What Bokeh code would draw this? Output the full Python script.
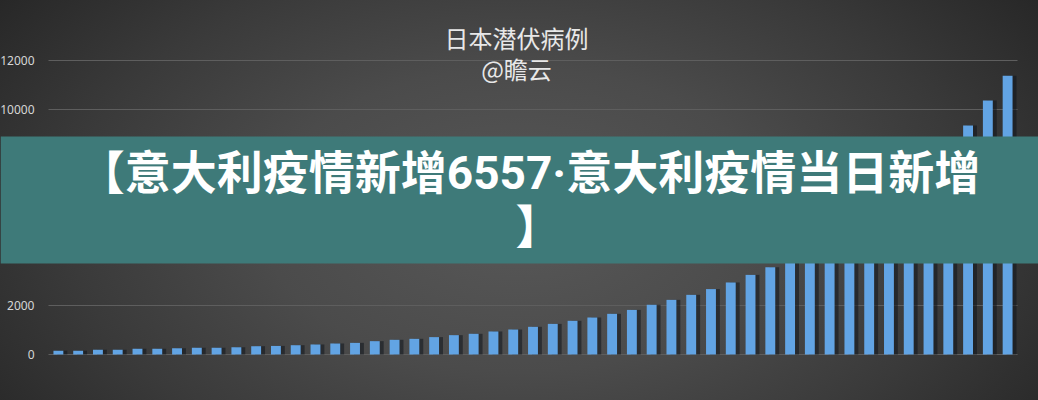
from bokeh.plotting import figure
from bokeh.models import ColumnDataSource, Range1d, FixedTicker, BoxAnnotation, Label
from bokeh.transform import dodge
from bokeh.embed import file_html
from bokeh.resources import INLINE

# ---- data -------------------------------------------------------------
title_lines = ["日本潜伏病例", "@瞻云"]
banner_lines = ["【意大利疫情新增6557·意大利疫情当日新增", "】"]
y_ticks = [0, 2000, 4000, 6000, 8000, 10000, 12000]
days = list(range(1, 50))
cases = [150, 150, 190, 190, 230, 230, 260, 280, 280, 300,
         340, 350, 380, 410, 450, 475, 545, 600, 640, 710,
         790, 845, 940, 1020, 1130, 1250, 1375, 1510, 1660, 1820,
         2030, 2230, 2435, 2670, 2940, 3250, 3565, 3920, 4300, 4740,
         5210, 5740, 6310, 6950, 7650, 8420, 9350, 10370, 11375]

src = ColumnDataSource(dict(day=days, cases=cases))

# ---- layout (pixels): frame covers the whole canvas ---------------------
W, H = 1038, 400
PX_LEFT, PX_RIGHT = 48, 1017      # where the category band starts / ends
PX_ZERO, PX_TOP = 354, 60         # pixel rows of 0 and of the top tick
n = len(days)
ppu_x = (PX_RIGHT - PX_LEFT) / n
x0 = 0.5 - PX_LEFT / ppu_x
x1 = n + 0.5 + (W - PX_RIGHT) / ppu_x
ppu_y = (PX_ZERO - PX_TOP) / y_ticks[-1]
y0 = -(H - PX_ZERO) / ppu_y
y1 = y_ticks[-1] + PX_TOP / ppu_y

p = figure(width=W, height=H, output_backend="svg", toolbar_location=None,
           x_range=Range1d(x0, x1), y_range=Range1d(y0, y1),
           min_border=0)
p.styles = {
    "background": "radial-gradient(ellipse 62% 95% at 50% 55%, #585858 0%, "
                  "#4b4b4b 40%, #3a3a3a 70%, #272727 100%)",
}
p.background_fill_color = None
p.border_fill_color = None
p.outline_line_color = None

p.xaxis.visible = False
p.xgrid.visible = False
p.ygrid.visible = False

ticker = FixedTicker(ticks=y_ticks)
p.yaxis.ticker = ticker
p.yaxis.fixed_location = 0.5
p.yaxis.axis_line_color = None
p.yaxis.major_tick_line_color = None
p.yaxis.minor_tick_line_color = None
p.yaxis.major_label_standoff = 8
p.yaxis.major_label_text_color = "#d6d6d6"
p.yaxis.major_label_text_font = "Noto Sans"
p.yaxis.major_label_text_font_size = "12px"

# horizontal gridlines across the category band
p.segment(x0=[0.5] * len(y_ticks), x1=[n + 0.5] * len(y_ticks),
          y0=y_ticks, y1=y_ticks, line_color="#5e5e5e", line_width=1)

# bar shadow + bars
p.vbar(x=dodge("day", 0.2, range=p.x_range), top="cases", width=0.5, source=src,
       fill_color="#10161e", fill_alpha=0.55, line_color=None)
p.vbar(x="day", top="cases", width=0.5, source=src,
       fill_color="#62a4e4", line_color=None)

# chart title
for txt, yy in zip(title_lines, [37, 68]):
    p.add_layout(Label(x=516, y=yy, x_units="canvas", y_units="canvas", text=txt,
                       text_font="Noto Sans CJK SC", text_font_size="24px",
                       text_color="#e8e8e8", text_align="center",
                       text_baseline="middle"))

# banner overlay
p.add_layout(BoxAnnotation(left=0, right=W, top=136, bottom=263,
                           left_units="canvas", right_units="canvas",
                           top_units="canvas", bottom_units="canvas",
                           fill_color="#3e7a79", fill_alpha=1, line_color=None))
for txt, xx, yy in zip(banner_lines, [529, 538], [172, 226]):
    p.add_layout(Label(x=xx, y=yy, x_units="canvas", y_units="canvas", text=txt,
                       text_font="'Liberation Sans Narrow', 'Roboto', 'Noto Sans CJK SC'",
                       text_font_size="46px",
                       text_font_style="bold", text_color="#ffffff",
                       text_align="center", text_baseline="middle"))

open("out.html", "w").write(file_html(p, INLINE))
